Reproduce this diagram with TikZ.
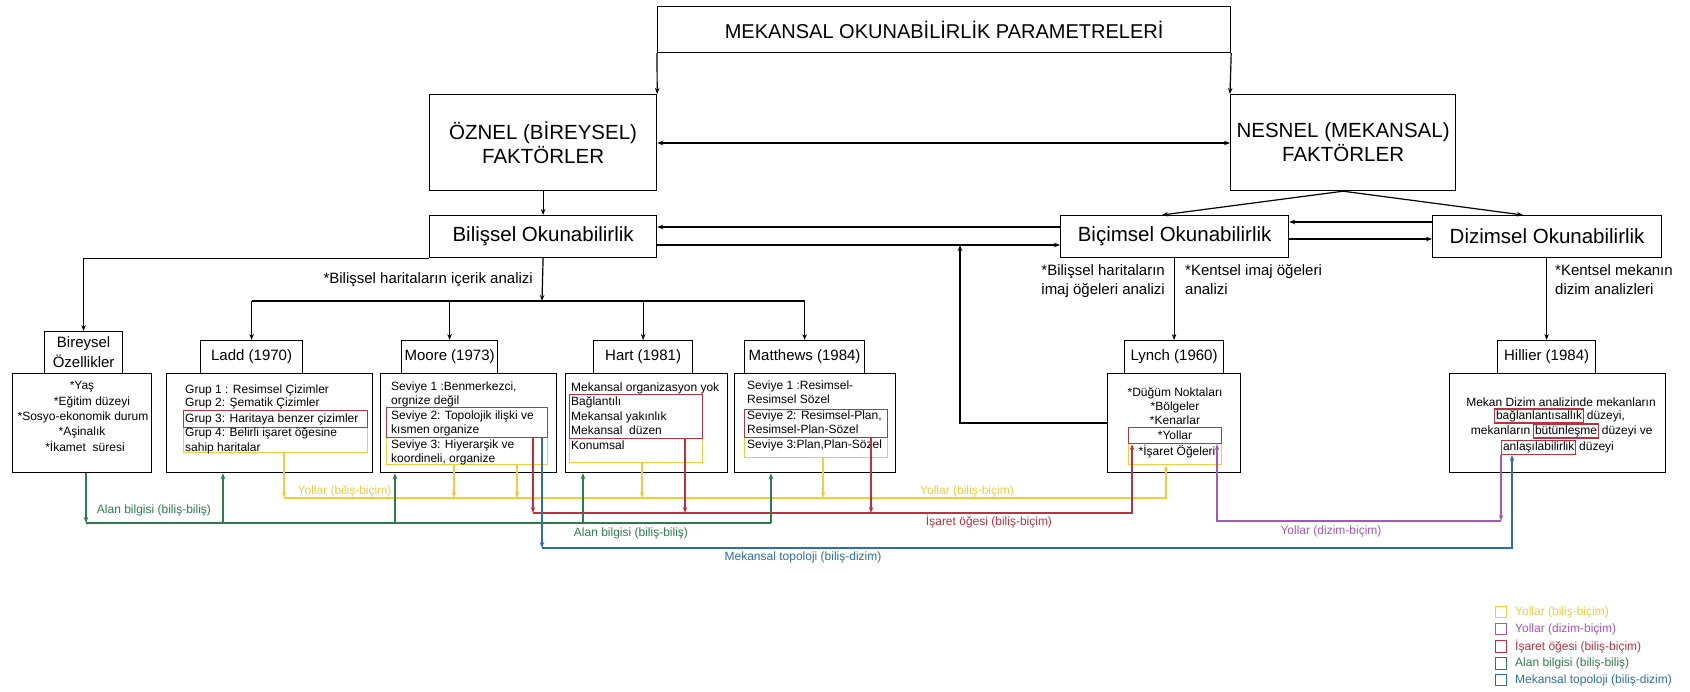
\documentclass[tikz,border=0pt]{standalone}
\usepackage{fontspec}
\setmainfont{Liberation Sans}
\usetikzlibrary{arrows.meta}
\definecolor{cY}{RGB}{240,205,60}
\definecolor{cR}{RGB}{192,48,60}
\definecolor{cG}{RGB}{45,125,75}
\definecolor{cB}{RGB}{45,110,170}
\definecolor{cP}{RGB}{170,85,185}
\newcommand{\mybox}[7]{\node[#6, anchor=north west, inner sep=0pt, minimum width={#4-#2}, minimum height={#5-#3}] (#1) at (#2,#3) {#7};}
\tikzset{
 blk/.style={draw=black, line width=1.2pt},
 ln/.style={draw=black, line width=1.2pt},
 arr/.style={-{Stealth[length=6pt,width=4.5pt]}},
 darr/.style={{Stealth[length=6pt,width=4.5pt]}-{Stealth[length=6pt,width=4.5pt]}},
 f20/.style={font=\fontsize{20.5}{24}\selectfont},
 f15/.style={font=\fontsize{15}{20}\selectfont},
 f12/.style={font=\fontsize{12}{14}\selectfont},
 tl/.style={inner sep=0pt, anchor=base west, f12},
 tc/.style={inner sep=0pt, anchor=base, f12},
 rb/.style={draw=cR, line width=1.1pt},
 yb/.style={draw=cY, line width=1.1pt},
 wb/.style={rb, inner xsep=1.5pt, inner ysep=1.5pt, text height=8.5pt, text depth=2.5pt, anchor=base west, f12},
 lY/.style={draw=cY, line width=1.1pt},
 lR/.style={draw=cR, line width=1.1pt},
 lG/.style={draw=cG, line width=1.1pt},
 lB/.style={draw=cB, line width=1.1pt},
 lP/.style={draw=cP, line width=1.1pt},
 clab/.style={inner sep=0pt, f12},
 sq/.style={line width=1pt, minimum size=11.5pt, inner sep=0pt},
 lg/.style={inner sep=0pt, anchor=west, f12},
}
\begin{document}
\begin{tikzpicture}[x=1pt,y=-1pt]
\useasboundingbox[fill=white] (0,0) rectangle (1690,691);

% main boxes
\mybox{title}{657}{6}{1230}{52}{blk,font=\fontsize{20}{24}\selectfont}{MEKANSAL OKUNABİLİRLİK PARAMETRELERİ}
\mybox{oznel}{429}{94}{656}{190}{blk,f20,align=center}{ÖZNEL (BİREYSEL)\\FAKTÖRLER}
\mybox{nesnel}{1230}{94}{1455}{190}{blk,f20,align=center}{NESNEL (MEKANSAL)\\FAKTÖRLER}
\mybox{bilissel}{429}{215}{656}{257}{blk,f20}{Bilişsel Okunabilirlik}
\mybox{bicimsel}{1060}{215}{1288}{257}{blk,f20}{Biçimsel Okunabilirlik}
\mybox{dizimsel}{1432}{215}{1661}{257}{blk,f20}{Dizimsel Okunabilirlik}

% big content boxes
\mybox{bireyB}{12}{373}{151}{472}{blk}{}
\mybox{laddB}{166}{373}{372}{472}{blk}{}
\mybox{mooreB}{380}{373}{556}{472}{blk}{}
\mybox{hartB}{565}{373}{727}{472}{blk}{}
\mybox{matB}{734}{373}{895}{472}{blk}{}
\mybox{lynchB}{1107}{373}{1240}{472}{blk}{}
\mybox{hillB}{1449}{373}{1665}{472}{blk}{}

% small title boxes
\mybox{bireyS}{44}{331}{122}{373}{blk,f15,align=center}{Bireysel\\Özellikler}
\mybox{laddS}{200}{340}{302}{373}{blk,f15}{Ladd (1970)}
\mybox{mooreS}{401}{340}{497}{373}{blk,f15}{Moore (1973)}
\mybox{hartS}{593}{340}{692}{373}{blk,f15}{Hart (1981)}
\mybox{matS}{744}{340}{864}{373}{blk,f15}{Matthews (1984)}
\mybox{lynchS}{1124}{340}{1223}{373}{blk,f15}{Lynch (1960)}
\mybox{hillS}{1497}{340}{1595}{373}{blk,f15}{Hillier (1984)}

% highlight boxes
\mybox{laddY}{183}{427}{367}{452}{yb}{}
\mybox{laddR}{183}{410}{367}{427}{rb}{}
\mybox{mooreY}{386}{437}{547}{464}{yb}{}
\mybox{mooreR}{386}{407}{547}{437}{rb}{}
\mybox{hartY}{569}{438}{702}{462}{yb}{}
\mybox{hartR}{569}{394}{702}{438}{rb}{}
\mybox{matY}{744}{437}{887}{457}{yb}{}
\mybox{matR}{744}{409}{887}{437}{rb}{}
\mybox{lynchY}{1128}{443}{1221}{464}{yb}{}
\mybox{lynchR}{1128}{427}{1221}{443}{rb}{}

% Bireysel text
\node[tc] (b1) at (82,389.2) {*Yaş};
\node[tc] (b2) at (92,405.2) {*Eğitim düzeyi};
\node[tc] (b3) at (83,420.2) {*Sosyo-ekonomik durum};
\node[tc] (b4) at (82,435.2) {*Aşinalık};
\node[tc] (b5) at (85,451.2) {*İkamet~ süresi};

% Ladd text
\node[tl] (la1) at (185,393.2) {Grup 1 : Resimsel Çizimler};
\node[tl] (la2) at (185,406.2) {Grup 2: Şematik Çizimler};
\node[tl] (la3) at (185,422.2) {Grup 3: Haritaya benzer çizimler};
\node[tl] (la4) at (185,436.2) {Grup 4: Belirli işaret öğesine};
\node[tl] (la5) at (185,451.2) {sahip haritalar};

% Moore text
\node[tl] (mo1) at (391,390.2) {Seviye 1 :Benmerkezci,};
\node[tl] (mo2) at (391,404.2) {orgnize değil};
\node[tl] (mo3) at (391,419.2) {Seviye 2: Topolojik ilişki ve};
\node[tl] (mo4) at (391,433.2) {kısmen organize};
\node[tl] (mo5) at (391,448.2) {Seviye 3: Hiyerarşik ve};
\node[tl] (mo6) at (391,462.2) {koordineli, organize};

% Hart text
\node[tl] (ha1) at (571,391.2) {Mekansal organizasyon yok};
\node[tl] (ha2) at (571,405.2) {Bağlantılı};
\node[tl] (ha3) at (571,420.2) {Mekansal yakınlık};
\node[tl] (ha4) at (571,434.2) {Mekansal~ düzen};
\node[tl] (ha5) at (571,449.2) {Konumsal};

% Matthews text
\node[tl] (ma1) at (747,389.2) {Seviye 1 :Resimsel-};
\node[tl] (ma2) at (747,403.2) {Resimsel Sözel};
\node[tl] (ma3) at (747,419.2) {Seviye 2: Resimsel-Plan,};
\node[tl] (ma4) at (747,433.2) {Resimsel-Plan-Sözel};
\node[tl] (ma5) at (747,448.2) {Seviye 3:Plan,Plan-Sözel};

% Lynch text
\node[tc] (ly1) at (1175,396.2) {*Düğüm Noktaları};
\node[tc] (ly2) at (1175,410.2) {*Bölgeler};
\node[tc] (ly3) at (1175,424.2) {*Kenarlar};
\node[tc] (ly4) at (1175,439.2) {*Yollar};
\node[tc] (ly5) at (1177,455.2) {*İşaret Öğeleri};

% Hillier text
\node[tc] (hi1) at (1561,406.2) {Mekan Dizim analizinde mekanların};
\node[wb] (hw1) at (1494,419) {bağlanlantısallık};
\node[tl] (hw1b) at ([xshift=2.5pt]hw1.base east) {düzeyi,};
\node[wb] (hw2) at (1533,434) {bütünleşme};
\node[inner sep=0pt, anchor=base east, f12] (hw2a) at ([xshift=-2.5pt]hw2.base west) {mekanların};
\node[tl] (hw2b) at ([xshift=2.5pt]hw2.base east) {düzeyi ve};
\node[wb] (hw3) at (1501,450.5) {anlaşılabilirlik};
\node[tl] (hw3b) at ([xshift=2.5pt]hw3.base east) {düzeyi};

% analysis labels
\node[f15, inner sep=0pt, anchor=base east] (lab1) at (533,283.3) {*Bilişsel haritaların içerik analizi};
\node[f15, inner sep=0pt, anchor=base east] (lab2) at (1165,275.5) {*Bilişsel haritaların};
\node[f15, inner sep=0pt, anchor=base east] (lab3) at (1165,294) {imaj öğeleri analizi};
\node[f15, inner sep=0pt, anchor=base west] (lab4) at (1185,275.5) {*Kentsel imaj öğeleri};
\node[f15, inner sep=0pt, anchor=base west] (lab5) at (1185,294) {analizi};
\node[f15, inner sep=0pt, anchor=base west] (lab6) at (1555,275.5) {*Kentsel mekanın};
\node[f15, inner sep=0pt, anchor=base west] (lab7) at (1555,294) {dizim analizleri};

% black connectors
\draw[ln, arr] (title.south west) -- (oznel.north east);
\draw[ln, arr] (title.south east) -- (nesnel.north west);
\draw[ln, darr] (oznel.east |- 0,143) -- (nesnel.west |- 0,143);
\draw[ln, arr] (oznel.south) -- (bilissel.north);
\draw[ln, arr] (nesnel.south) -- (1162,0 |- bicimsel.north);
\draw[ln, arr] (nesnel.south) -- (1523,0 |- dizimsel.north);
\draw[ln, arr] (bicimsel.west |- 0,227) -- (bilissel.east |- 0,227);
\draw[ln, arr] (bilissel.east |- 0,245) -- (bicimsel.west |- 0,245);
\draw[ln, arr] (dizimsel.west |- 0,222) -- (bicimsel.east |- 0,222);
\draw[ln, arr] (bicimsel.east |- 0,239) -- (dizimsel.west |- 0,239);
\draw[ln, arr] (bilissel.south west) -| (bireyS.north);
\draw[ln, arr] (bilissel.south) -- (542,301);
\draw[ln] (laddS.north |- 0,301) -- (matS.north |- 0,301);
\draw[ln, arr] (laddS.north |- 0,301) -- (laddS.north);
\draw[ln, arr] (mooreS.north |- 0,301) -- (mooreS.north);
\draw[ln, arr] (hartS.north |- 0,301) -- (hartS.north);
\draw[ln, arr] (matS.north |- 0,301) -- (matS.north);
\draw[ln, arr] (lynchB.west |- 0,423) -- (960,423) -- (960,245);
\draw[ln, arr] (lynchS.north |- bicimsel.south) -- (lynchS.north);
\draw[ln, arr] (hillS.north |- dizimsel.south) -- (hillS.north);

% yellow: Yollar (bilis-bicim)
\draw[lY, arr] (284,0 |- laddY.south) -- (284,498);
\draw[lY, arr] (454,0 |- mooreY.south) -- (454,498);
\draw[lY, arr] (517,0 |- mooreY.south) -- (517,498);
\draw[lY, arr] (642,0 |- hartY.south) -- (642,498);
\draw[lY, arr] (823,0 |- matY.south) -- (823,498);
\draw[lY, arr] (284,498) -- (1166,498) -- (1166,0 |- lynchY.south);

% red: Isaret ogesi
\draw[lR, arr] (533,0 |- mooreR.south) -- (533,513);
\draw[lR, arr] (685,0 |- hartR.south) -- (685,513);
\draw[lR, arr] (871,0 |- matR.south) -- (871,513);
\draw[lR, arr] (533,513) -- (1132,513) -- (1132,0 |- lynchR.south);

% green: Alan bilgisi
\draw[lG, arr] (86,0 |- bireyB.south) -- (86,523);
\draw[lG] (86,523) -- (771,523);
\draw[lG, arr] (223,523) -- (223,0 |- laddB.south);
\draw[lG, arr] (395,523) -- (395,0 |- mooreB.south);
\draw[lG, arr] (583,523) -- (583,0 |- hartB.south);
\draw[lG, arr] (771,523) -- (771,0 |- matB.south);

% blue: Mekansal topoloji
\draw[lB, arr] (542,0 |- mooreR.south) -- (542,548);
\draw[lB, arr] (542,548) -- (1512,548) -- (1512,0 |- hw3.south);

% purple: Yollar (dizim-bicim)
\draw[lP, arr] (1501,0 |- hw3.south) -- (1501,521);
\draw[lP, arr] (1501,521) -- (1217,521) -- (1217,0 |- lynchR.south);

% connector labels
\node[clab, text=cY] (cl1) at (344.5,491) {Yollar (biliş-biçim)};
\node[clab, text=cY] (cl2) at (967,491) {Yollar (biliş-biçim)};
\node[clab, text=cG] (cl3) at (154,510) {Alan bilgisi (biliş-biliş)};
\node[clab, text=cG] (cl4) at (631,533) {Alan bilgisi (biliş-biliş)};
\node[clab, text=cR] (cl5) at (989,522) {İşaret öğesi (biliş-biçim)};
\node[clab, text=cB] (cl6) at (803,557) {Mekansal topoloji (biliş-dizim)};
\node[clab, text=cP] (cl7) at (1331,531) {Yollar (dizim-biçim)};

% legend
\node[sq, draw=cY] (sq1) at (1501,612) {};
\node[lg, text=cY] (lg1) at (1515,612) {Yollar (biliş-biçim)};
\node[sq, draw=cP] (sq2) at (1501,629) {};
\node[lg, text=cP] (lg2) at (1515,629) {Yollar (dizim-biçim)};
\node[sq, draw=cR] (sq3) at (1501,646.5) {};
\node[lg, text=cR] (lg3) at (1515,646.5) {İşaret öğesi (biliş-biçim)};
\node[sq, draw=cG] (sq4) at (1501,663.5) {};
\node[lg, text=cG] (lg4) at (1515,663.5) {Alan bilgisi (biliş-biliş)};
\node[sq, draw=cB] (sq5) at (1501,680) {};
\node[lg, text=cB] (lg5) at (1515,680) {Mekansal topoloji (biliş-dizim)};
\end{tikzpicture}
\end{document}
